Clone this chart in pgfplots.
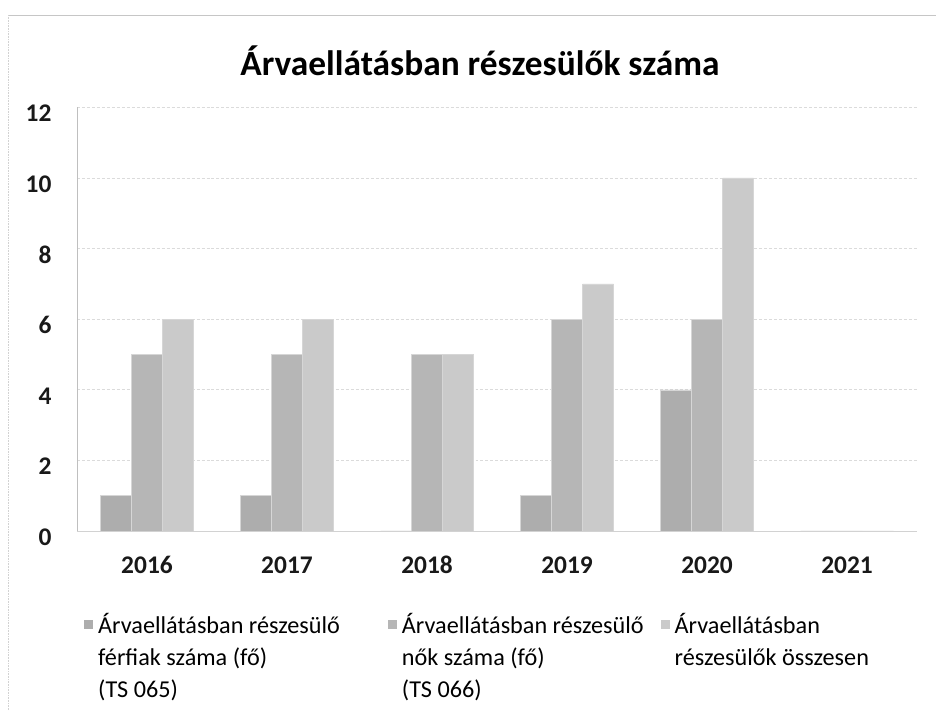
\documentclass[border=0pt]{standalone}
\usepackage{pgfplots}
\pgfplotsset{compat=1.18}
\usepackage{fontspec}
\setmainfont{Carlito}
\definecolor{cA}{HTML}{ADADAD}
\definecolor{cB}{HTML}{B6B6B6}
\definecolor{cC}{HTML}{CACACA}
\definecolor{sep}{HTML}{D6D6D6}
\pgfplotstableread{
x m f t
0 1 5 6
1 1 5 6
2 0 5 5
3 1 6 7
4 4 6 10
5 0 0 0
}\data
\begin{document}
\begin{tikzpicture}
\path[use as bounding box] (0,0) rectangle (936bp,711bp);
\draw[gray!45, line width=0.8bp] (8bp,696bp) -- (936bp,696bp);
\draw[gray!35, line width=0.6bp, densely dotted] (8bp,696bp) -- (8bp,0);
\node[font=\fontsize{35.5}{40}\selectfont\bfseries] at (480bp,650bp) {Árvaellátásban részesülők száma};
\begin{axis}[
  at={(77bp,180bp)}, anchor=south west,
  x=140bp, y=35.3bp,
  xmin=-0.5, xmax=5.5, ymin=0, ymax=12,
  ybar=0pt, bar width=31bp,
  axis x line*=bottom, axis y line*=left,
  x axis line style={gray!35, line width=0.6bp},
  y axis line style={gray!50, line width=0.8bp},
  xtick={0,...,5}, xticklabels={2016,2017,2018,2019,2020,2021},
  ytick={0,2,...,12},
  major tick length=0pt,
  ymajorgrids, grid style={gray!28, line width=0.6bp, densely dashed},
  tick label style={font=\fontsize{25.5}{30}\selectfont\bfseries, black!90},
  /pgf/number format/assume math mode=true,
  yticklabel style={anchor=east, xshift=-22bp, yshift=-6bp},
  xticklabel style={anchor=base, yshift=-42bp},
  legend style={at={(7bp,-80bp)}, anchor=north west, draw=none, fill=none,
    font=\fontsize{24.3}{32}\selectfont, legend columns=3,
    cells={anchor=north west, align=left}, inner sep=0pt,
    /tikz/column 2/.style={column sep=46bp},
    /tikz/column 4/.style={column sep=15bp},
    /tikz/column 1/.style={column sep=3bp},
    /tikz/column 3/.style={column sep=3bp},
    /tikz/column 5/.style={column sep=3bp}},
  legend image code/.code={\fill[#1, draw=none] (0bp,-18bp) rectangle (9bp,-9bp);},
]
\addplot[fill=cA, draw=sep, line width=0.5bp] table[x=x, y=m] {\data};
\addplot[fill=cB, draw=sep, line width=0.5bp] table[x=x, y=f] {\data};
\addplot[fill=cC, draw=sep, line width=0.5bp] table[x=x, y=t] {\data};
\legend{Árvaellátásban részesülő\\férfiak száma (fő)\\(TS 065), Árvaellátásban részesülő\\nők száma (fő)\\(TS 066), Árvaellátásban\\részesülők összesen}
\end{axis}
\end{tikzpicture}
\end{document}
